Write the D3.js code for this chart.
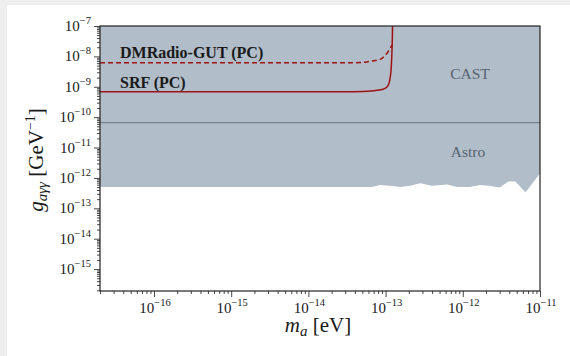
<!DOCTYPE html>
<html>
<head>
<meta charset="utf-8">
<script src="https://cdn.jsdelivr.net/npm/d3@7"></script>
<style>
  body { margin: 0; background: #eeeeee; }
  #chart-area { position: absolute; left: 7px; top: 5px; width: 563px; height: 351px; background: #ffffff; }
  svg { position: absolute; left: -7px; top: -5px; }
  text { font-family: "Liberation Serif", "DejaVu Serif", serif; fill: #1a1a1a; }
</style>
</head>
<body>
<div id="chart-area"></div>
<script>

// ---- data ----
var xTickPowers = [-16, -15, -14, -13, -12, -11];
var yTickPowers = [-15, -14, -13, -12, -11, -10, -9, -8, -7];

// SRF (PC) projected sensitivity
var srfMass     = [2e-17, 3e-14, 5e-14, 7e-14, 9e-14, 1.05e-13, 1.13e-13, 1.18e-13, 1.21e-13, 1.225e-13, 1.23e-13];
var srfCoupling = [6.9e-10, 6.9e-10, 7.0e-10, 7.4e-10, 8.1e-10, 1.0e-9, 1.6e-9, 4e-9, 1.5e-8, 5e-8, 1e-7];

// DMRadio-GUT (PC) projected sensitivity
var dmrMass     = [2e-17, 3e-14, 4.7e-14, 6.3e-14, 8.5e-14, 1.07e-13, 1.17e-13, 1.22e-13];
var dmrCoupling = [6.2e-9, 6.2e-9, 6.25e-9, 6.9e-9, 8.0e-9, 1.4e-8, 2.0e-8, 2.4e-8];

// Astro bound (lower edge of shaded region)
var astroMass     = [2e-17, 6.6e-14, 8.5e-14, 1.15e-13, 1.55e-13, 2.1e-13, 2.8e-13, 4e-13, 6.3e-13, 8.4e-13, 1.23e-12, 1.66e-12, 2.2e-12, 3.0e-12, 3.9e-12, 4.8e-12, 6.5e-12, 1e-11];
var astroCoupling = [5e-13, 5e-13, 5.9e-13, 5.5e-13, 5e-13, 5.5e-13, 6.7e-13, 5.5e-13, 6.1e-13, 5e-13, 5e-13, 5.9e-13, 5.5e-13, 4.8e-13, 7.6e-13, 7.6e-13, 3.4e-13, 1.4e-12];

// CAST limit
var castLimit = 6.6e-11;

var xDomain = [2e-17, 1e-11];
var yDomain = [1.9e-16, 1e-7];

// ---- layout ----
var margin = { left: 100, right: 30, top: 26, bottom: 65 },
    width = 570 - margin.left - margin.right,
    height = 356 - margin.top - margin.bottom;

var svg = d3.select("#chart-area")
    .append("svg")
    .attr("width", 570)
    .attr("height", 356);

var g = svg.append("g")
    .attr("transform", "translate(" + margin.left + "," + margin.top + ")");

var x = d3.scaleLog().domain(xDomain).range([0, width]);
var y = d3.scaleLog().domain(yDomain).range([height, 0]);

svg.append("defs").append("clipPath").attr("id", "clip")
  .append("rect").attr("width", width).attr("height", height);

var plot = g.append("g").attr("clip-path", "url(#clip)");

var fillColor = "#b1bdc9";

// astro region: from bound up to top
var astro = astroMass.map(function(m, i) { return [m, astroCoupling[i]]; });
var area = d3.area()
    .x(function(d) { return x(d[0]); })
    .y0(0)
    .y1(function(d) { return y(d[1]); });
plot.append("path")
    .datum(astro)
    .attr("fill", fillColor)
    .attr("d", area);

// CAST region
plot.append("rect")
    .attr("x", 0).attr("y", 0)
    .attr("width", width).attr("height", y(castLimit))
    .attr("fill", fillColor);
plot.append("line")
    .attr("x1", 0).attr("x2", width)
    .attr("y1", y(castLimit)).attr("y2", y(castLimit))
    .attr("stroke", "#75828f")
    .attr("stroke-width", 1.2);

// projection curves
var line = d3.line()
    .x(function(d) { return x(d[0]); })
    .y(function(d) { return y(d[1]); })
    .curve(d3.curveMonotoneX);

var lineColor = "#a01212";

plot.append("path")
    .datum(dmrMass.map(function(m, i) { return [m, dmrCoupling[i]]; }))
    .attr("fill", "none")
    .attr("stroke", lineColor)
    .attr("stroke-width", 1.5)
    .attr("stroke-dasharray", "5,3")
    .attr("d", line);

plot.append("path")
    .datum(srfMass.map(function(m, i) { return [m, srfCoupling[i]]; }))
    .attr("fill", "none")
    .attr("stroke", lineColor)
    .attr("stroke-width", 1.5)
    .attr("d", line);

// labels in the plot
g.append("text")
    .attr("x", 20).attr("y", 32)
    .attr("font-weight", "bold").attr("font-size", 16)
    .text("DMRadio-GUT (PC)");
g.append("text")
    .attr("x", 20).attr("y", 62)
    .attr("font-weight", "bold").attr("font-size", 16)
    .text("SRF (PC)");
g.append("text")
    .attr("x", 370).attr("y", 53)
    .attr("text-anchor", "middle").attr("font-size", 15.5)
    .style("fill", "#56636f")
    .text("CAST");
g.append("text")
    .attr("x", 368).attr("y", 131)
    .attr("text-anchor", "middle").attr("font-size", 15.5)
    .style("fill", "#56636f")
    .text("Astro");

// ---- axes ----
function minorTicks(dom) {
    var t = [];
    var lo = Math.floor(Math.log10(dom[0])), hi = Math.ceil(Math.log10(dom[1]));
    for (var p = lo; p <= hi; p++) {
        for (var k = 2; k <= 9; k++) {
            var v = k * Math.pow(10, p);
            if (v >= dom[0] && v <= dom[1]) t.push(v);
        }
    }
    return t;
}

g.append("g")
    .attr("transform", "translate(0," + height + ")")
    .call(d3.axisBottom(x)
        .tickValues(xTickPowers.map(function(p) { return Math.pow(10, p); }))
        .tickSize(6).tickFormat(""));
g.append("g")
    .attr("transform", "translate(0," + height + ")")
    .call(d3.axisBottom(x).tickValues(minorTicks(xDomain)).tickSize(3).tickFormat(""));

g.append("g")
    .call(d3.axisLeft(y)
        .tickValues(yTickPowers.map(function(p) { return Math.pow(10, p); }))
        .tickSize(6).tickFormat(""));
g.append("g")
    .call(d3.axisLeft(y).tickValues(minorTicks(yDomain)).tickSize(3).tickFormat(""));

g.selectAll(".domain").remove();
g.selectAll(".tick line").attr("stroke", "#333").attr("stroke-width", 0.9);

// frame
g.append("rect")
    .attr("width", width).attr("height", height)
    .attr("fill", "none")
    .attr("stroke", "#222")
    .attr("stroke-width", 1.2);

// tick labels with superscripts
xTickPowers.forEach(function(p) {
    var t = g.append("text")
        .attr("x", x(Math.pow(10, p)) + 1)
        .attr("y", height + 22)
        .attr("text-anchor", "middle")
        .attr("font-size", 15);
    t.append("tspan").text("10");
    t.append("tspan").attr("dy", -7).attr("font-size", 10.5).text("\u2212" + Math.abs(p));
});

yTickPowers.forEach(function(p) {
    var t = g.append("text")
        .attr("x", -9)
        .attr("y", y(Math.pow(10, p)) + 5)
        .attr("text-anchor", "end")
        .attr("font-size", 15);
    t.append("tspan").text("10");
    t.append("tspan").attr("dy", -7).attr("font-size", 10.5).text("\u2212" + Math.abs(p));
});

// axis titles
var xt = svg.append("text")
    .attr("x", 318).attr("y", 332)
    .attr("text-anchor", "middle")
    .attr("font-size", 21);
xt.append("tspan").attr("font-style", "italic").text("m");
xt.append("tspan").attr("font-style", "italic").attr("font-size", 15).attr("dy", 4).text("a");
xt.append("tspan").attr("dy", -4).text(" [eV]");

var yt = svg.append("text")
    .attr("transform", "translate(43,160) rotate(-90)")
    .attr("text-anchor", "middle")
    .attr("font-size", 21);
yt.append("tspan").attr("font-style", "italic").text("g");
yt.append("tspan").attr("font-style", "italic").attr("font-size", 15).attr("dy", 4).text("a\u03b3\u03b3");
yt.append("tspan").attr("dy", -4).text(" [GeV");
yt.append("tspan").attr("font-size", 14).attr("dy", -8).text("\u22121");
yt.append("tspan").attr("dy", 8).text("]");

</script>
</body>
</html>
